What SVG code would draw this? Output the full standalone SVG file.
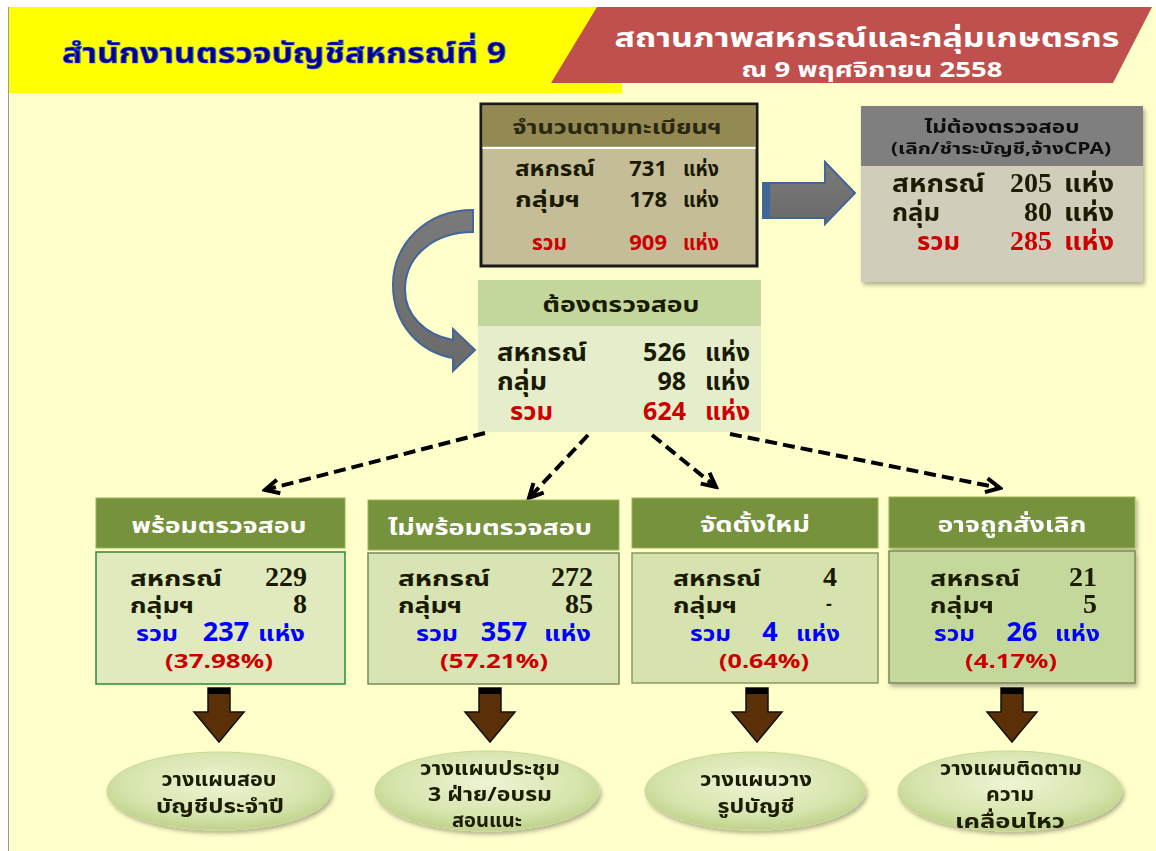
<svg xmlns="http://www.w3.org/2000/svg" width="1156" height="851" viewBox="0 0 1156 851">
<style>
.th{font-family:Tahoma,"Noto Sans Thai","Noto Sans","DejaVu Sans",sans-serif;font-weight:bold}
.sf{font-family:"Liberation Serif","Noto Serif",serif;font-weight:bold}
.dk{fill:#1a1a00}
.rd{fill:#CC0000}
.bl{fill:#0000FF}
.wh{fill:#FFFFFF}
.hdr{fill:#76923C;stroke:#9BB35A;stroke-width:1}
.dash{fill:none;stroke:#000;stroke-width:4;stroke-dasharray:12 6;marker-end:url(#chev)}
.brown{fill:#5C3006;stroke:#111;stroke-width:1.5}
</style>
<defs>
<marker id="chev" viewBox="0 0 20 20" refX="17" refY="10" markerWidth="20" markerHeight="20" markerUnits="userSpaceOnUse" orient="auto">
<path d="M3,3 L17,10 L3,17" fill="none" stroke="#000" stroke-width="4"/>
</marker>
<radialGradient id="ov" cx="50%" cy="40%" r="60%">
<stop offset="0" stop-color="#EEF4D4"/>
<stop offset="0.7" stop-color="#D6E4AC"/>
<stop offset="1" stop-color="#BFD28A"/>
</radialGradient>
<linearGradient id="ga" x1="0" y1="0" x2="0" y2="1">
<stop offset="0" stop-color="#7A7A7A"/>
<stop offset="1" stop-color="#6A6A6A"/>
</linearGradient>
<filter id="sh" x="-10%" y="-10%" width="130%" height="130%">
<feDropShadow dx="2" dy="3" stdDeviation="2" flood-color="#000" flood-opacity="0.3"/>
</filter>
</defs>
<rect width="1156" height="851" fill="#FFFFFF"/>
<rect x="9" y="7" width="1147" height="844" fill="#FFFFCC"/>
<line x1="8.5" y1="7" x2="8.5" y2="851" stroke="#9A9A9A" stroke-width="1"/>

<g id="header">
<rect x="9" y="7" width="613" height="86" fill="#FFFF00"/>
<polygon points="597,7 1152,7 1113,83 551,83" fill="#C0504D"/>
<text class="th" x="284" y="63" text-anchor="middle" font-size="29" textLength="444" lengthAdjust="spacingAndGlyphs" fill="#00008B" stroke="#3A5AD0" stroke-width="0.7">สำนักงานตรวจบัญชีสหกรณ์ที่ 9</text>
<text class="th wh" x="867" y="47" text-anchor="middle" font-size="27" textLength="505" lengthAdjust="spacingAndGlyphs">สถานภาพสหกรณ์และกลุ่มเกษตรกร</text>
<text class="th wh" x="872" y="77" text-anchor="middle" font-size="22" textLength="261" lengthAdjust="spacingAndGlyphs">ณ 9 พฤศจิกายน 2558</text>
</g>

<g id="registered">
<rect x="481" y="104" width="276" height="162" fill="#C4BD97" stroke="#1a1a1a" stroke-width="3"/>
<rect x="482.5" y="105.5" width="273" height="41" fill="#938953"/>
<line x1="482.5" y1="148" x2="755.5" y2="148" stroke="#FFFFFF" stroke-width="2"/>
<text class="th" x="617" y="134" text-anchor="middle" font-size="19" textLength="209" lengthAdjust="spacingAndGlyphs" fill="#2B2610">จำนวนตามทะเบียนฯ</text>
<text class="th dk" x="515" y="176" font-size="21" textLength="80" lengthAdjust="spacingAndGlyphs">สหกรณ์</text>
<text class="th dk" x="667" y="176" font-size="22" text-anchor="end">731</text>
<text class="th dk" x="683" y="176" font-size="21" textLength="36" lengthAdjust="spacingAndGlyphs">แห่ง</text>
<text class="th dk" x="515" y="207" font-size="21" textLength="65" lengthAdjust="spacingAndGlyphs">กลุ่มฯ</text>
<text class="th dk" x="667" y="207" font-size="22" text-anchor="end">178</text>
<text class="th dk" x="683" y="207" font-size="21" textLength="36" lengthAdjust="spacingAndGlyphs">แห่ง</text>
<text class="th rd" x="532" y="250" font-size="21" textLength="35" lengthAdjust="spacingAndGlyphs">รวม</text>
<text class="th rd" x="667" y="250" font-size="22" text-anchor="end">909</text>
<text class="th rd" x="683" y="250" font-size="21" textLength="36" lengthAdjust="spacingAndGlyphs">แห่ง</text>
</g>

<g id="no-audit" filter="url(#sh)">
<rect x="861" y="106" width="282" height="176" fill="#D0CEBA"/>
<rect x="861" y="106" width="282" height="60" fill="#7F7F7F"/>
<text class="th" x="1002" y="133" text-anchor="middle" font-size="17" textLength="155" lengthAdjust="spacingAndGlyphs" fill="#111">ไม่ต้องตรวจสอบ</text>
<text class="th" x="1001" y="154" text-anchor="middle" font-size="16" textLength="220" lengthAdjust="spacingAndGlyphs" fill="#111">(เลิก/ชำระบัญชี,จ้างCPA)</text>
<text class="th dk" x="892" y="192" font-size="24" textLength="93" lengthAdjust="spacingAndGlyphs">สหกรณ์</text>
<text class="sf dk" x="1052" y="192" font-size="28" text-anchor="end">205</text>
<text class="th dk" x="1064" y="192" font-size="24" textLength="50" lengthAdjust="spacingAndGlyphs">แห่ง</text>
<text class="th dk" x="892" y="221" font-size="24" textLength="48" lengthAdjust="spacingAndGlyphs">กลุ่ม</text>
<text class="sf dk" x="1052" y="221" font-size="28" text-anchor="end">80</text>
<text class="th dk" x="1064" y="221" font-size="24" textLength="50" lengthAdjust="spacingAndGlyphs">แห่ง</text>
<text class="th rd" x="917" y="250" font-size="24" textLength="43" lengthAdjust="spacingAndGlyphs">รวม</text>
<text class="sf rd" x="1052" y="250" font-size="28" text-anchor="end">285</text>
<text class="th rd" x="1064" y="250" font-size="24" textLength="50" lengthAdjust="spacingAndGlyphs">แห่ง</text>
</g>

<g id="must-audit">
<rect x="478" y="280" width="283" height="152" fill="#E5EDCB"/>
<rect x="478" y="280" width="283" height="46" fill="#C3D69B"/>
<text class="th dk" x="621" y="312" text-anchor="middle" font-size="21" textLength="157" lengthAdjust="spacingAndGlyphs">ต้องตรวจสอบ</text>
<text class="th dk" x="497" y="361" font-size="24" textLength="90" lengthAdjust="spacingAndGlyphs">สหกรณ์</text>
<text class="th dk" x="686" y="361" font-size="25" text-anchor="end">526</text>
<text class="th dk" x="705" y="361" font-size="24" textLength="45" lengthAdjust="spacingAndGlyphs">แห่ง</text>
<text class="th dk" x="497" y="390" font-size="24" textLength="50" lengthAdjust="spacingAndGlyphs">กลุ่ม</text>
<text class="th dk" x="686" y="390" font-size="25" text-anchor="end">98</text>
<text class="th dk" x="705" y="390" font-size="24" textLength="45" lengthAdjust="spacingAndGlyphs">แห่ง</text>
<text class="th rd" x="510" y="420" font-size="24" textLength="43" lengthAdjust="spacingAndGlyphs">รวม</text>
<text class="th rd" x="686" y="420" font-size="25" text-anchor="end">624</text>
<text class="th rd" x="705" y="420" font-size="24" textLength="45" lengthAdjust="spacingAndGlyphs">แห่ง</text>
</g>

<g id="connectors">
<path d="M763,183 L825,183 L825,162 L855,193 L825,224 L825,218 L763,218 Z" fill="url(#ga)" stroke="#41669A" stroke-width="2"/>
<rect x="763" y="183" width="7" height="35" fill="#41669A"/>
<path d="M473,210 C425,210 393,245 393,285 C393,325 420,352 453,358 L453,371 L475,350 L453,329 L453,340 C425,335 405,315 405,290 C405,255 435,232 473,232 Z" fill="url(#ga)" stroke="#41669A" stroke-width="2"/>
<line class="dash" x1="485" y1="433" x2="265" y2="490"/>
<line class="dash" x1="588" y1="435" x2="529" y2="498"/>
<line class="dash" x1="652" y1="435" x2="716" y2="487"/>
<line class="dash" x1="730" y1="434" x2="1000" y2="488"/>
<path class="brown" d="M208,688 L230,688 L230,712 L244,712 L219,742 L194,712 L208,712 Z"/>
<rect x="208" y="688" width="22" height="6" fill="#000"/>
<path class="brown" d="M479,688 L501,688 L501,712 L515,712 L490,742 L465,712 L479,712 Z"/>
<rect x="479" y="688" width="22" height="6" fill="#000"/>
<path class="brown" d="M746,688 L768,688 L768,712 L782,712 L757,742 L732,712 L746,712 Z"/>
<rect x="746" y="688" width="22" height="6" fill="#000"/>
<path class="brown" d="M1001,688 L1023,688 L1023,712 L1037,712 L1012,742 L987,712 L1001,712 Z"/>
<rect x="1001" y="688" width="22" height="6" fill="#000"/>
</g>

<g id="ready">
<rect class="hdr" x="96" y="498" width="249" height="50"/>
<text class="th wh" x="219" y="533" text-anchor="middle" font-size="21" textLength="175" lengthAdjust="spacingAndGlyphs">พร้อมตรวจสอบ</text>
<rect x="96" y="552" width="249" height="132" fill="#E1EABF" stroke="#2E8B2E" stroke-width="1.5"/>
<text class="th dk" x="130" y="586" font-size="22" textLength="92" lengthAdjust="spacingAndGlyphs">สหกรณ์</text>
<text class="sf dk" x="307" y="586" font-size="28" text-anchor="end">229</text>
<text class="th dk" x="130" y="613" font-size="22" textLength="64" lengthAdjust="spacingAndGlyphs">กลุ่มฯ</text>
<text class="sf dk" x="307" y="613" font-size="28" text-anchor="end">8</text>
<text class="th bl" x="136" y="641" font-size="22" textLength="42" lengthAdjust="spacingAndGlyphs">รวม</text>
<text class="th bl" x="226" y="641" font-size="27" text-anchor="middle">237</text>
<text class="th bl" x="258" y="641" font-size="22" textLength="47" lengthAdjust="spacingAndGlyphs">แห่ง</text>
<text class="th rd" x="219" y="668" font-size="20" text-anchor="middle" textLength="108" lengthAdjust="spacingAndGlyphs">(37.98%)</text>
</g>

<g id="not-ready">
<rect class="hdr" x="368" y="500" width="251" height="50"/>
<text class="th wh" x="490" y="535" text-anchor="middle" font-size="21" textLength="204" lengthAdjust="spacingAndGlyphs">ไม่พร้อมตรวจสอบ</text>
<rect x="368" y="553" width="251" height="131" fill="#D8E4B4" stroke="#7A8A55" stroke-width="1.5"/>
<text class="th dk" x="398" y="586" font-size="22" textLength="92" lengthAdjust="spacingAndGlyphs">สหกรณ์</text>
<text class="sf dk" x="593" y="586" font-size="28" text-anchor="end">272</text>
<text class="th dk" x="398" y="613" font-size="22" textLength="64" lengthAdjust="spacingAndGlyphs">กลุ่มฯ</text>
<text class="sf dk" x="593" y="613" font-size="28" text-anchor="end">85</text>
<text class="th bl" x="416" y="641" font-size="22" textLength="42" lengthAdjust="spacingAndGlyphs">รวม</text>
<text class="th bl" x="504" y="641" font-size="27" text-anchor="middle">357</text>
<text class="th bl" x="544" y="641" font-size="22" textLength="47" lengthAdjust="spacingAndGlyphs">แห่ง</text>
<text class="th rd" x="494" y="668" font-size="20" text-anchor="middle" textLength="108" lengthAdjust="spacingAndGlyphs">(57.21%)</text>
</g>

<g id="new">
<rect class="hdr" x="632" y="498" width="246" height="50"/>
<text class="th wh" x="755" y="532" text-anchor="middle" font-size="21" textLength="110" lengthAdjust="spacingAndGlyphs">จัดตั้งใหม่</text>
<rect x="632" y="553" width="246" height="130" fill="#D6E3AE" stroke="#8A9A60" stroke-width="1.5"/>
<text class="th dk" x="673" y="586" font-size="22" textLength="88" lengthAdjust="spacingAndGlyphs">สหกรณ์</text>
<text class="sf dk" x="837" y="586" font-size="28" text-anchor="end">4</text>
<text class="th dk" x="673" y="613" font-size="22" textLength="64" lengthAdjust="spacingAndGlyphs">กลุ่มฯ</text>
<text class="th dk" x="829" y="610" font-size="18" text-anchor="middle">-</text>
<text class="th bl" x="690" y="641" font-size="22" textLength="41" lengthAdjust="spacingAndGlyphs">รวม</text>
<text class="th bl" x="770" y="641" font-size="27" text-anchor="middle">4</text>
<text class="th bl" x="796" y="641" font-size="22" textLength="44" lengthAdjust="spacingAndGlyphs">แห่ง</text>
<text class="th rd" x="764" y="668" font-size="20" text-anchor="middle" textLength="90" lengthAdjust="spacingAndGlyphs">(0.64%)</text>
</g>

<g id="may-dissolve" filter="url(#sh)">
<rect class="hdr" x="889" y="497" width="246" height="51"/>
<text class="th wh" x="1012" y="532" text-anchor="middle" font-size="21" textLength="149" lengthAdjust="spacingAndGlyphs">อาจถูกสั่งเลิก</text>
<rect x="889" y="551" width="246" height="132" fill="#C5D89C" stroke="#7A8A55" stroke-width="1.5"/>
<text class="th dk" x="930" y="586" font-size="22" textLength="90" lengthAdjust="spacingAndGlyphs">สหกรณ์</text>
<text class="sf dk" x="1097" y="586" font-size="28" text-anchor="end">21</text>
<text class="th dk" x="930" y="613" font-size="22" textLength="64" lengthAdjust="spacingAndGlyphs">กลุ่มฯ</text>
<text class="sf dk" x="1097" y="613" font-size="28" text-anchor="end">5</text>
<text class="th bl" x="934" y="641" font-size="22" textLength="41" lengthAdjust="spacingAndGlyphs">รวม</text>
<text class="th bl" x="1022" y="641" font-size="27" text-anchor="middle">26</text>
<text class="th bl" x="1055" y="641" font-size="22" textLength="45" lengthAdjust="spacingAndGlyphs">แห่ง</text>
<text class="th rd" x="1011" y="668" font-size="20" text-anchor="middle" textLength="92" lengthAdjust="spacingAndGlyphs">(4.17%)</text>
</g>

<g id="plan-audit" filter="url(#sh)">
<ellipse cx="219" cy="791" rx="112" ry="39" fill="url(#ov)" stroke="#C8D89A" stroke-width="1"/>
<text class="th dk" x="219" y="786" font-size="19" text-anchor="middle" textLength="115" lengthAdjust="spacingAndGlyphs">วางแผนสอบ</text>
<text class="th dk" x="220" y="813" font-size="19" text-anchor="middle" textLength="128" lengthAdjust="spacingAndGlyphs">บัญชีประจำปี</text>
</g>
<g id="plan-meeting" filter="url(#sh)">
<ellipse cx="487" cy="791" rx="112" ry="40" fill="url(#ov)" stroke="#C8D89A" stroke-width="1"/>
<text class="th dk" x="490" y="775" font-size="19" text-anchor="middle" textLength="140" lengthAdjust="spacingAndGlyphs">วางแผนประชุม</text>
<text class="th dk" x="490" y="801" font-size="19" text-anchor="middle" textLength="124" lengthAdjust="spacingAndGlyphs">3 ฝ่าย/อบรม</text>
<text class="th dk" x="487" y="827" font-size="19" text-anchor="middle" textLength="70" lengthAdjust="spacingAndGlyphs">สอนแนะ</text>
</g>
<g id="plan-format" filter="url(#sh)">
<ellipse cx="755" cy="791" rx="110" ry="39" fill="url(#ov)" stroke="#C8D89A" stroke-width="1"/>
<text class="th dk" x="756" y="786" font-size="19" text-anchor="middle" textLength="112" lengthAdjust="spacingAndGlyphs">วางแผนวาง</text>
<text class="th dk" x="756" y="813" font-size="19" text-anchor="middle" textLength="77" lengthAdjust="spacingAndGlyphs">รูปบัญชี</text>
</g>
<g id="plan-follow" filter="url(#sh)">
<ellipse cx="1010" cy="791" rx="112" ry="40" fill="url(#ov)" stroke="#C8D89A" stroke-width="1"/>
<text class="th dk" x="1011" y="775" font-size="19" text-anchor="middle" textLength="142" lengthAdjust="spacingAndGlyphs">วางแผนติดตาม</text>
<text class="th dk" x="1010" y="801" font-size="19" text-anchor="middle" textLength="48" lengthAdjust="spacingAndGlyphs">ความ</text>
<text class="th dk" x="1010" y="828" font-size="19" text-anchor="middle" textLength="110" lengthAdjust="spacingAndGlyphs">เคลื่อนไหว</text>
</g>
</svg>
